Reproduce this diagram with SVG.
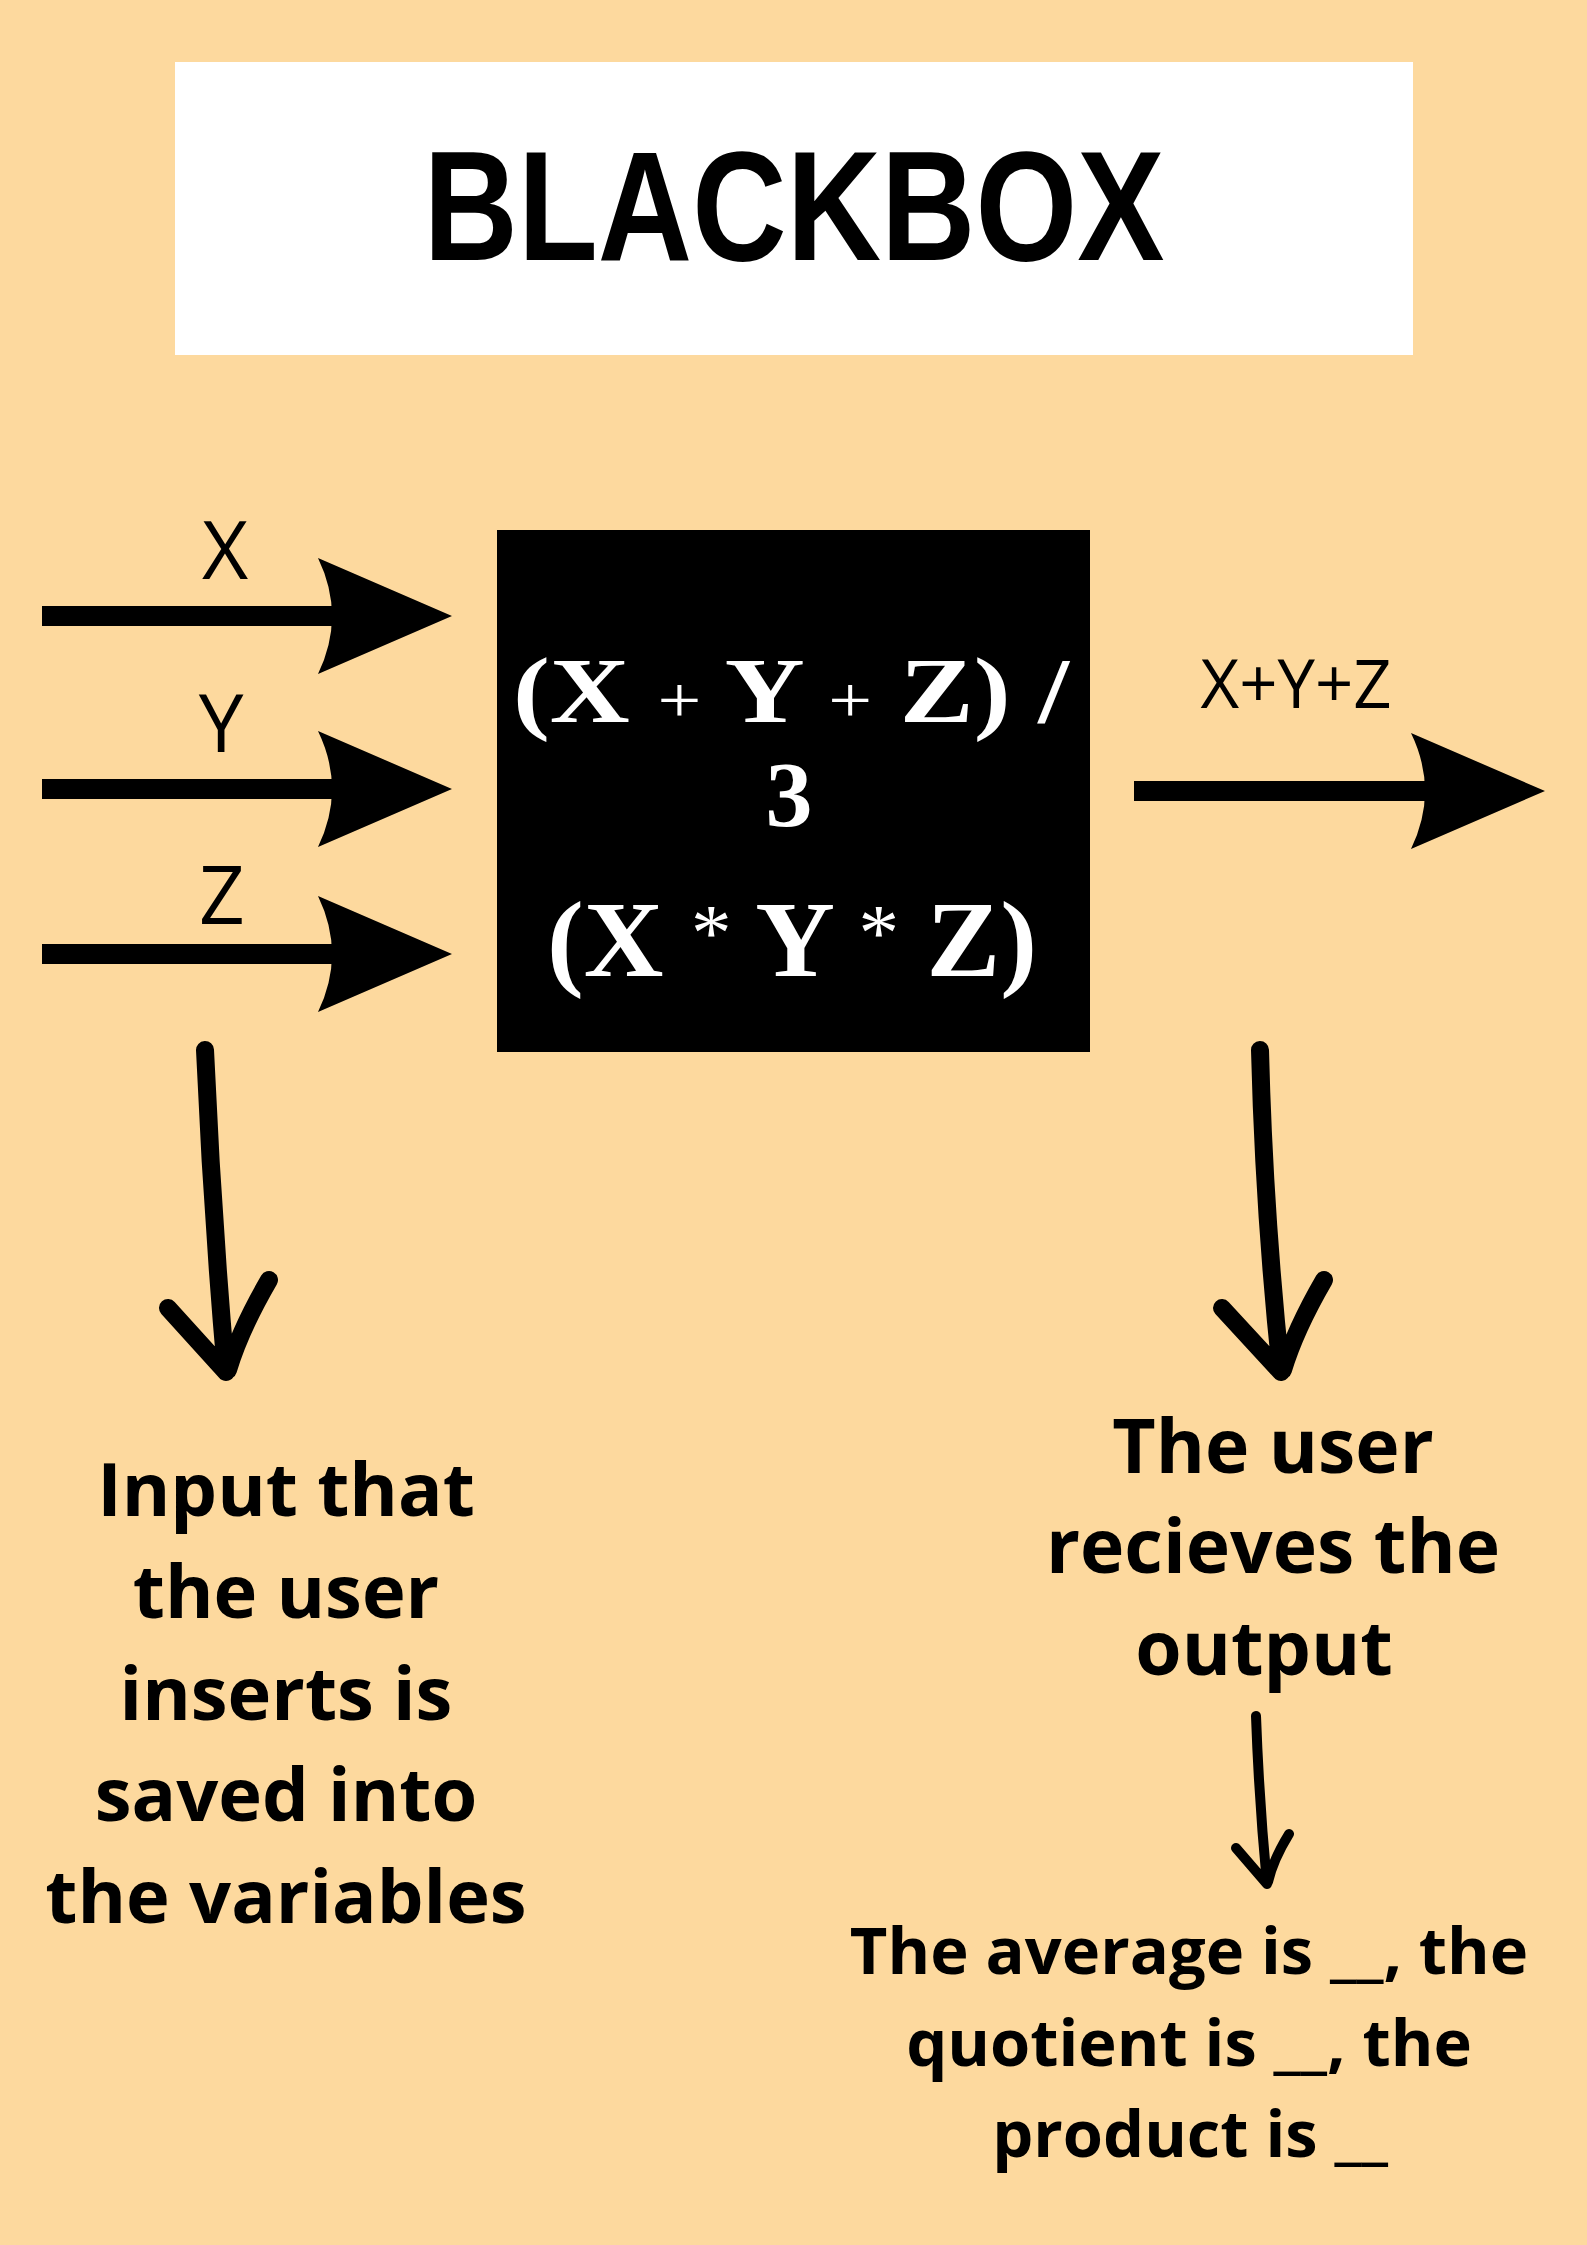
<svg xmlns="http://www.w3.org/2000/svg" width="1587" height="2245" viewBox="0 0 1587 2245">
<style>
.lbl{font-family:"Open Sans","Liberation Sans",sans-serif;font-weight:400;fill:#000;text-anchor:middle}
.body{font-family:"Open Sans","Liberation Sans",sans-serif;font-weight:700;fill:#000;text-anchor:middle}
.box{font-family:"Liberation Serif","DejaVu Serif",serif;font-weight:700;fill:#fff;text-anchor:middle}
.op{font-weight:400}
.title{font-family:"Liberation Sans","DejaVu Sans",sans-serif;font-weight:700;fill:#000;text-anchor:middle}
.stroke{fill:none;stroke:#000;stroke-linecap:round;stroke-linejoin:round}
</style>
<defs>
<path id="head" d="M-134,-58 L0,0 L-134,58 Q-106,0 -134,-58 Z" fill="#000"/>
</defs>
<rect x="0" y="0" width="1587" height="2245" fill="#FDD99E"/>
<g id="title">
<rect x="175" y="62" width="1238" height="293" fill="#fff"/>
<text class="title" x="794" y="260" font-size="156" textLength="741" lengthAdjust="spacingAndGlyphs">BLACKBOX</text>
</g>
<g id="blackbox">
<rect x="497" y="530" width="593" height="522" fill="#000"/>
<text class="box" x="791" y="722" font-size="94" textLength="556" lengthAdjust="spacingAndGlyphs">(X <tspan class="op" font-size="66">+</tspan> Y <tspan class="op" font-size="66">+</tspan> Z) /</text>
<text class="box" x="789" y="826" font-size="94">3</text>
<text class="box" x="792" y="976" font-size="109" textLength="490" lengthAdjust="spacingAndGlyphs">(X <tspan class="op" font-size="80" dy="-16">*</tspan><tspan dy="16"> Y </tspan><tspan class="op" font-size="80" dy="-16">*</tspan><tspan dy="16"> Z)</tspan></text>
</g>
<g id="labels">
<text class="lbl" x="225" y="579" font-size="80">X</text>
<text class="lbl" x="221" y="752" font-size="80">Y</text>
<text class="lbl" x="222" y="924" font-size="80">Z</text>
<text class="lbl" x="1296" y="708" font-size="67">X+Y+Z</text>
</g>
<g id="input-note">
<text class="body" x="286" y="1516" font-size="74">Input that</text>
<text class="body" x="286" y="1618" font-size="74">the user</text>
<text class="body" x="286" y="1720" font-size="74">inserts is</text>
<text class="body" x="286" y="1821" font-size="74">saved into</text>
<text class="body" x="286" y="1923" font-size="74">the variables</text>
</g>
<g id="output-note">
<text class="body" x="1273" y="1473" font-size="75">The user</text>
<text class="body" x="1273" y="1573" font-size="75">recieves the</text>
<text class="body" x="1264" y="1675" font-size="75">output</text>
</g>
<g id="result-note">
<text class="body" x="1189" y="1974" font-size="65">The average is __, the</text>
<text class="body" x="1189" y="2066" font-size="65">quotient is __, the</text>
<text class="body" x="1190" y="2157" font-size="65">product is __</text>
</g>
<g id="connectors">
<rect x="42" y="606" width="290" height="20" fill="#000"/>
<use href="#head" transform="translate(452,616)"/>
<rect x="42" y="779" width="290" height="20" fill="#000"/>
<use href="#head" transform="translate(452,789)"/>
<rect x="42" y="944" width="290" height="20" fill="#000"/>
<use href="#head" transform="translate(452,954)"/>
<rect x="1134" y="781" width="291" height="20" fill="#000"/>
<use href="#head" transform="translate(1545,791)"/>
<path class="stroke" stroke-width="18" d="M205,1050 Q212,1211 226,1372 M168,1308 L226,1372 M269,1280 Q240,1330 228,1370"/>
<path class="stroke" stroke-width="18" d="M1260,1050 Q1264,1211 1281,1372 M1222,1308 L1281,1372 M1324,1280 Q1295,1330 1283,1370"/>
<path class="stroke" stroke-width="10" d="M1256,1716 Q1259,1800 1267,1884 M1236,1848 L1267,1884 M1289,1834 Q1273,1860 1268,1882"/>
</g>
</svg>
